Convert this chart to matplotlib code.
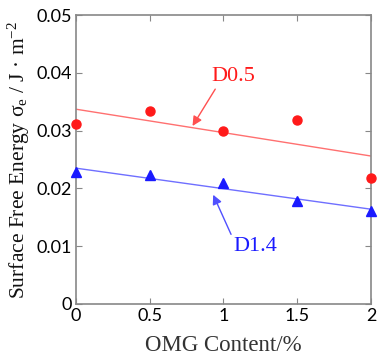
import matplotlib
matplotlib.use("Agg")
import matplotlib.pyplot as plt
import numpy as np

plt.rcParams["mathtext.fontset"] = "custom"
plt.rcParams["mathtext.rm"] = "Liberation Serif"
plt.rcParams["mathtext.it"] = "Liberation Serif:italic"

omg = [0, 0.5, 1, 1.5, 2]
d05 = [0.0311, 0.0334, 0.0299, 0.0318, 0.0218]
d14 = [0.0228, 0.0223, 0.0209, 0.0179, 0.0161]
fit_x = [0, 2]
fit_d05 = [0.0337, 0.0256]
fit_d14 = [0.0235, 0.0164]
xticks = [0, 0.5, 1, 1.5, 2]
xticklabels = ["0", "0.5", "1", "1.5", "2"]
yticks = [0, 0.01, 0.02, 0.03, 0.04, 0.05]
yticklabels = ["0", "0.01", "0.02", "0.03", "0.04", "0.05"]

fig = plt.figure(figsize=(3.79, 3.58), dpi=100)
ax = fig.add_axes([76/379, 1-304/358, 295/379, 289/358])

red = "#ff1a1a"
blue = "#1a1aff"
ax.plot(fit_x, fit_d05, color="#ff7070", lw=1.0, zorder=2)
ax.plot(fit_x, fit_d14, color="#6f6fff", lw=1.0, zorder=2)
ax.plot(omg, d05, "o", color=red, ms=6.5, clip_on=False, zorder=3)
ax.plot(omg, d14, "^", color=blue, ms=6.5, clip_on=False, zorder=3)

ax.set_xlim(0, 2)
ax.set_ylim(0, 0.05)
ax.set_xticks(xticks)
ax.set_xticklabels(xticklabels)
ax.set_yticks(yticks)
ax.set_yticklabels(yticklabels)
for s in ax.spines.values():
    s.set_color("#888888")
    s.set_linewidth(1.2)
ax.tick_params(direction="in", top=True, right=True, length=4, color="#888888",
               labelsize=13, pad=3)
for lab in ax.get_xticklabels() + ax.get_yticklabels():
    lab.set_family("Lato")

ax.set_xlabel("OMG Content/%", family="Liberation Serif", fontsize=16.5,
              color="#333333", labelpad=8)
ax.set_ylabel("Surface Free Energy σ$_\\mathrm{e}$ / J · m$^{-2}$",
              family="Liberation Serif", fontsize=15.5, color="#111111", labelpad=3)

ax.annotate("D0.5", xy=(0.79, 0.0308), xytext=(0.92, 0.0393),
            color=red, family="Liberation Serif", fontsize=16,
            va="center", ha="left",
            arrowprops=dict(arrowstyle="-|>", color="#ff5050", lw=1.0,
                            mutation_scale=14, shrinkA=0, shrinkB=0,
                            relpos=(0.12, 0.0)))
ax.annotate("D1.4", xy=(0.93, 0.0189), xytext=(1.07, 0.0100),
            color=blue, family="Liberation Serif", fontsize=16,
            va="center", ha="left",
            arrowprops=dict(arrowstyle="-|>", color="#5050ff", lw=1.0,
                            mutation_scale=14, shrinkA=0, shrinkB=0,
                            relpos=(0.0, 0.8)))

fig.savefig("out.png", dpi=100)
